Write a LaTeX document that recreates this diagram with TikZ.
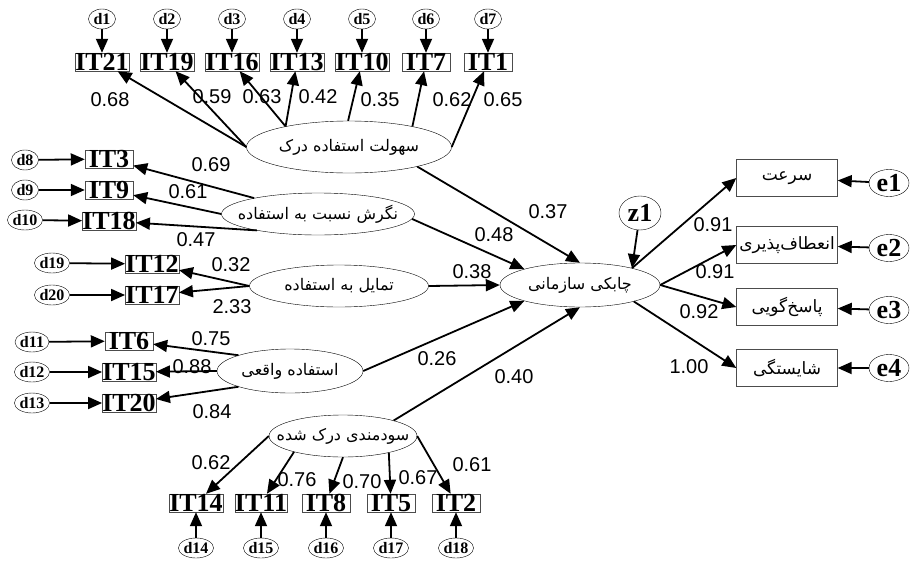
\documentclass[tikz,border=0pt]{standalone}
\usepackage{fontspec}
\setmainfont{Liberation Serif}
\newfontfamily\arialfont{Liberation Sans}
\newfontfamily\farsifont[Script=Arabic]{DejaVu Sans}
\TeXXeTstate=1
\usepackage{tikz}
\usetikzlibrary{arrows.meta,shapes.geometric}
\newcommand{\farsi}[1]{\makebox[0pt]{\farsifont\beginR #1\endR}}
\tikzset{
  latent/.style={ellipse, draw, thin, inner sep=0pt, font=\fontsize{16}{18}\selectfont},
  item/.style={rectangle, draw=black!70, thin, minimum width=48pt, text height=17pt, text depth=0pt,
               inner xsep=0pt, inner ysep=0.5pt, font=\bfseries\fontsize{26}{26}\selectfont},
  factor/.style={rectangle, draw=black!70, thin, minimum width=101pt, minimum height=37pt, font=\fontsize{17}{19}\selectfont},
  resid/.style={ellipse, draw, thin, inner sep=0pt, minimum width=27pt, minimum height=20pt, font=\bfseries\fontsize{16}{16}\selectfont},
  bigresid/.style={ellipse, draw, thin, inner sep=0pt, minimum width=40pt, minimum height=27pt, font=\bfseries\fontsize{26}{26}\selectfont},
  load/.style={inner sep=0pt, font=\arialfont\fontsize{20}{20}\selectfont},
  arr/.style={-{Triangle[length=14pt,width=12pt]}, line width=1.8pt}, % AMOS-like heads
}

\begin{document}
\begin{tikzpicture}[x=1pt, y=-1pt]
\useasboundingbox (0,0) rectangle (910,560);
%Nodes
\node[latent, minimum width=205pt, minimum height=52pt] (sh) at (349,147) {\farsi{سهولت استفاده درک}};
\node[latent, minimum width=193pt, minimum height=42pt] (neg) at (318,214) {\farsi{نگرش نسبت به استفاده}};
\node[latent, minimum width=179pt, minimum height=42pt] (tam) at (339,286) {\farsi{تمایل به استفاده}};
\node[latent, minimum width=146pt, minimum height=44pt] (est) at (290,371) {\farsi{استفاده واقعی}};
\node[latent, minimum width=148pt, minimum height=42pt] (sod) at (343,436) {\farsi{سودمندی درک شده}};
\node[latent, minimum width=160pt, minimum height=44pt] (chab) at (580,285) {\farsi{چابکی سازمانی}};

\node[item] (it21) at (102,62) {IT21};
\node[item] (it19) at (167,62) {IT19};
\node[item] (it16) at (232,62) {IT16};
\node[item] (it13) at (297,62) {IT13};
\node[item] (it10) at (362,62) {IT10};
\node[item] (it7) at (426,62) {IT7};
\node[item] (it1) at (488,62) {IT1};
\node[resid] (d1) at (102,19) {d1};
\node[resid] (d2) at (167,19) {d2};
\node[resid] (d3) at (232,19) {d3};
\node[resid] (d4) at (297,19) {d4};
\node[resid] (d5) at (362,19) {d5};
\node[resid] (d6) at (426,19) {d6};
\node[resid] (d7) at (488,19) {d7};

\node[item] (it3) at (109,159) {IT3};
\node[item] (it9) at (109,190) {IT9};
\node[item] (it18) at (109,221) {IT18};
\node[resid] (d8) at (25,160) {d8};
\node[resid] (d9) at (25,190) {d9};
\node[resid] (d10) at (25,220) {d10};

\node[item] (it12) at (152,264) {IT12};
\node[item] (it17) at (152,295) {IT17};
\node[resid] (d19) at (52,263) {d19};
\node[resid] (d20) at (52,295) {d20};

\node[item] (it6) at (129,341) {IT6};
\node[item] (it15) at (129,372) {IT15};
\node[item] (it20) at (129,403) {IT20};
\node[resid] (d11) at (32,342) {d11};
\node[resid] (d12) at (32,372) {d12};
\node[resid] (d13) at (32,403) {d13};

\node[item] (it14) at (196,503) {IT14};
\node[item] (it11) at (261,503) {IT11};
\node[item] (it8) at (326,503) {IT8};
\node[item] (it5) at (391,503) {IT5};
\node[item] (it2) at (456,503) {IT2};
\node[resid] (d14) at (196,548) {d14};
\node[resid] (d15) at (261,548) {d15};
\node[resid] (d16) at (326,548) {d16};
\node[resid] (d17) at (391,548) {d17};
\node[resid] (d18) at (456,548) {d18};

\node[factor] (sor) at (787,178) {\farsi{سرعت}};
\node[factor] (enf) at (787,245) {\farsi{انعطاف‌پذیری}};
\node[factor] (pas) at (787,307) {\farsi{پاسخ‌گویی}};
\node[factor] (sha) at (787,368) {\farsi{شایستگی}};
\node[bigresid] (e1) at (889,183) {e1};
\node[bigresid] (e2) at (889,248) {e2};
\node[bigresid] (e3) at (889,310) {e3};
\node[bigresid] (e4) at (889,368) {e4};
\node[bigresid, minimum width=42pt, minimum height=34pt] (z1) at (640,213) {z1};

%Loadings
\node[load] (l21) at (110,100) {0.68};
\node[load] (l19) at (212,97) {0.59};
\node[load] (l16) at (262,97) {0.63};
\node[load] (l13) at (318,97) {0.42};
\node[load] (l10) at (380,100) {0.35};
\node[load] (l7) at (452,100) {0.62};
\node[load] (l1) at (503,100) {0.65};
\node[load] (l3) at (211,165) {0.69};
\node[load] (l9) at (188,192) {0.61};
\node[load] (l18) at (196,240) {0.47};
\node[load] (l12) at (231,265) {0.32};
\node[load] (l17) at (232,307) {2.33};
\node[load] (l6) at (211,339) {0.75};
\node[load] (l15) at (192,367) {0.88};
\node[load] (l20) at (212,412) {0.84};
\node[load] (l14) at (211,463) {0.62};
\node[load] (l11) at (297,480) {0.76};
\node[load] (l8) at (362,482) {0.70};
\node[load] (l5) at (418,478) {0.67};
\node[load] (l2) at (472,465) {0.61};
\node[load] (bsh) at (548,212) {0.37};
\node[load] (bneg) at (494,235) {0.48};
\node[load] (btam) at (472,272) {0.38};
\node[load] (best) at (437,359) {0.26};
\node[load] (bsod) at (514,377) {0.40};
\node[load] (lsor) at (713,225) {0.91};
\node[load] (lenf) at (715,272) {0.91};
\node[load] (lpas) at (699,312) {0.92};
\node[load] (lsha) at (689,367) {1.00};

%Lines
\draw[arr] (sh.180) -- (it21);
\draw[arr] (sh.180) -- (it19);
\draw[arr] (sh.162) -- (it16);
\draw[arr] (sh.162) -- (it13);
\draw[arr] (sh.92) -- (it10);
\draw[arr] (sh.18) -- (it7);
\draw[arr] (sh.0) -- (it1);
\draw[arr] (d1) -- (it21);
\draw[arr] (d2) -- (it19);
\draw[arr] (d3) -- (it16);
\draw[arr] (d4) -- (it13);
\draw[arr] (d5) -- (it10);
\draw[arr] (d6) -- (it7);
\draw[arr] (d7) -- (it1);

\draw[arr] (neg.166) -- (it3);
\draw[arr] (neg.180) -- (it9);
\draw[arr] (neg.195) -- (it18);
\draw[arr] (d8) -- (it3);
\draw[arr] (d9) -- (it9);
\draw[arr] (d10) -- (it18);

\draw[arr] (tam.180) -- (it12);
\draw[arr] (tam.180) -- (it17);
\draw[arr] (d19) -- (it12);
\draw[arr] (d20) -- (it17);

\draw[arr] (est.163) -- (it6);
\draw[arr] (est.180) -- (it15);
\draw[arr] (est.197) -- (it20);
\draw[arr] (d11) -- (it6);
\draw[arr] (d12) -- (it15);
\draw[arr] (d13) -- (it20);

\draw[arr] (sod.180) -- (it14);
\draw[arr] (sod.198) -- (it11);
\draw[arr] (sod.270) -- (it8);
\draw[arr] (sod.340) -- (it5);
\draw[arr] (sod.0) -- (it2);
\draw[arr] (d14) -- (it14);
\draw[arr] (d15) -- (it11);
\draw[arr] (d16) -- (it8);
\draw[arr] (d17) -- (it5);
\draw[arr] (d18) -- (it2);

\draw[arr] (sh.344) -- (chab.90);
\draw[arr] (neg.-3) -- (chab.164);
\draw[arr] (tam.east) -- (chab.west);
\draw[arr] (est.east) -- (chab.196);
\draw[arr] (sod.17) -- (chab.270);
\draw[arr] (z1) -- (chab.18);

\draw[arr] (chab.18) -- (sor.west);
\draw[arr] (chab.0) -- (enf.west);
\draw[arr] (chab.0) -- (pas.west);
\draw[arr] (chab.343) -- (sha.west);
\draw[arr] (e1) -- (sor);
\draw[arr] (e2) -- (enf);
\draw[arr] (e3) -- (pas);
\draw[arr] (e4) -- (sha);
\end{tikzpicture}
\end{document}
